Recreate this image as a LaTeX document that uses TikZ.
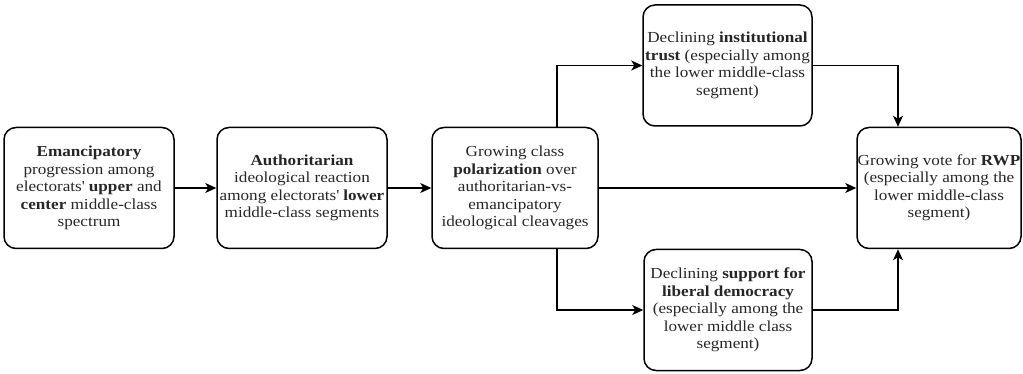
\documentclass[tikz,border=0pt]{standalone}
\usepackage{fontspec}
\setmainfont[FakeStretch=1.12]{Liberation Serif}
\usetikzlibrary{arrows.meta}
\begin{document}
\begin{tikzpicture}[x=1pt,y=-1pt,
  box/.style={draw, line width=1.5pt, rounded corners=12pt, align=center,
    font=\fontsize{15.3}{17.5}\selectfont, inner sep=0pt, text=black!85},
  conn/.style={line width=1.3pt, -{Stealth[length=11pt,width=10pt,inset=3pt]}}]
\useasboundingbox (0,0) rectangle (1023,374);
\node[box, minimum width=170pt, minimum height=121pt] (b1) at (89,188)
  {\textbf{Emancipatory}\\progression among\\electorats\textquotesingle{} \textbf{upper} and\\\textbf{center} middle-class\\spectrum};
\node[box, minimum width=170pt, minimum height=121pt] (b2) at (302,188)
  {\textbf{Authoritarian}\\ideological reaction\\among electorats\textquotesingle{} \textbf{lower}\\middle-class segments};
\node[box, minimum width=166pt, minimum height=121pt] (b3) at (515,188)
  {Growing class\\\textbf{polarization} over\\authoritarian-vs-\\emancipatory\\ideological cleavages};
\node[box, minimum width=169pt, minimum height=121pt] (b4) at (727.5,65.5)
  {Declining \textbf{institutional}\\\textbf{trust} (especially among\\the lower middle-class\\segment)};
\node[box, minimum width=168pt, minimum height=121pt] (b5) at (728,310)
  {Declining \textbf{support for}\\\textbf{liberal democracy}\\(especially among the\\lower middle class\\segment)};
\node[box, minimum width=164pt, minimum height=121pt] (b6) at (939,188)
  {Growing vote for \textbf{RWP}\\(especially among the\\lower middle-class\\segment)};
\draw[conn] (b1) -- (b2);
\draw[conn] (b2) -- (b3);
\draw[conn] (b3) -- (b6);
\draw[conn] ([xshift=42pt]b3.north) |- (b4.west);
\draw[conn] ([xshift=42pt]b3.south) |- (b5.west);
\draw[conn] (b4.east) -| ([xshift=-41pt]b6.north);
\draw[conn] (b5.east) -| ([xshift=-41pt]b6.south);
\end{tikzpicture}
\end{document}
